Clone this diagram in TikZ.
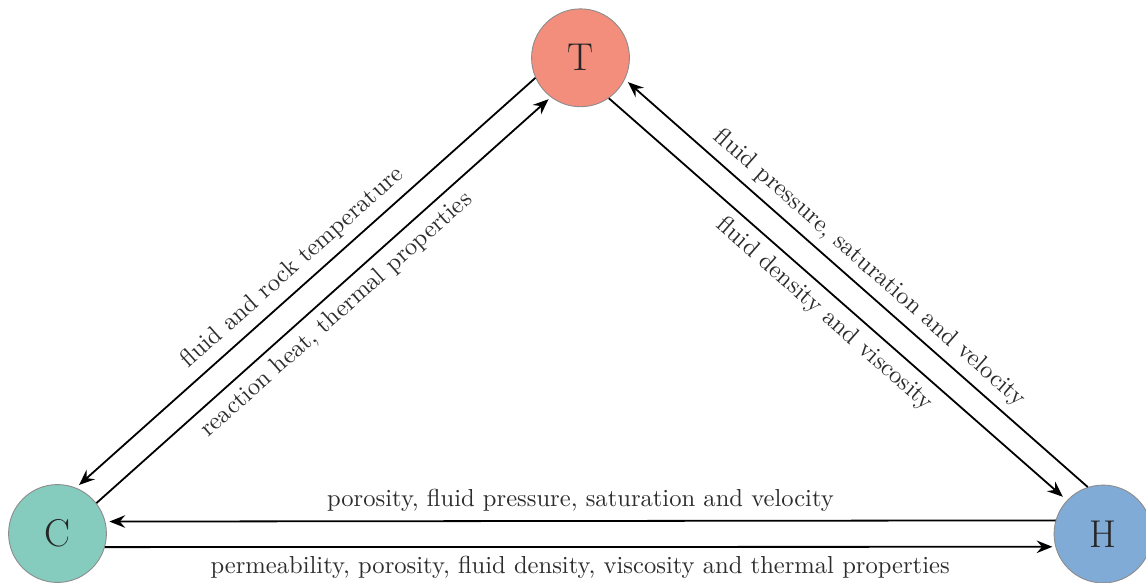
\documentclass[tikz,border=0pt]{standalone}
\usetikzlibrary{arrows.meta}
\definecolor{tcol}{RGB}{244,142,124}
\definecolor{ccol}{RGB}{133,204,190}
\definecolor{hcol}{RGB}{128,171,214}
\definecolor{txtcol}{RGB}{45,45,45}
\begin{document}
\begin{tikzpicture}[x=0.4455pt,y=-0.4455pt,
  vert/.style={circle, draw=black!45, line width=0.4pt, minimum size=43.6pt, inner sep=0pt, font=\LARGE, text=black!85},
  arr/.style={-{Stealth[length=7pt,width=5.6pt,inset=2.4pt]}, thick, black},
  lab/.style={text=txtcol, font=\fontsize{10.95}{13.6}\selectfont, inner sep=3.6pt}]
\useasboundingbox (0,0) rectangle (1146,582);
\node[vert, fill=tcol] (T) at (580.5,57.8) {T};
\node[vert, fill=ccol] (C) at (57.5,533.5) {C};
\node[vert, fill=hcol] (H) at (1103,534) {H};
% T -- C
\draw[arr, shorten >=1.8pt] (T.204.5) -- node[lab, above, sloped] {fluid and rock temperature} (C.68.5);
\draw[arr, shorten >=1.3pt] (C.38.6) -- node[lab, below, sloped] {reaction heat, thermal properties} (T.233.6);
% T -- H
\draw[arr, shorten >=1.8pt] (H.108.4) -- node[lab, above, sloped] {fluid pressure, saturation and velocity} (T.334.1);
\draw[arr, shorten >=2.4pt] (T.305.6) -- node[lab, below, sloped] {fluid density and viscosity} (H.137.7);
% C -- H
\draw[arr, shorten >=1.8pt] (H.164.8) -- node[lab, above] {porosity, fluid pressure, saturation and velocity} (C.14.8);
\draw[arr, shorten >=1.3pt] (C.-16) -- node[lab, below] {permeability, porosity, fluid density, viscosity and thermal properties} (H.195.4);
\end{tikzpicture}
\end{document}
